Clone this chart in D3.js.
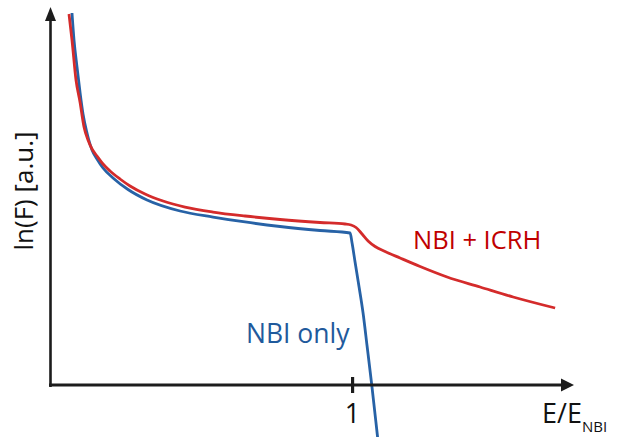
<!DOCTYPE html>
<html>
<head>
<meta charset="utf-8">
<script src="https://cdn.jsdelivr.net/npm/d3@7"></script>
<style>
  html, body { margin: 0; padding: 0; background: #fff; }
  svg { display: block; font-family: "Open Sans", "Noto Sans", sans-serif; }
</style>
</head>
<body>
<svg id="chart" width="619" height="437"></svg>
<script>
// Normalised energy E/E_NBI and ln(F) (arbitrary units) for both distributions
const energyIcrh = [0.0629, 0.0728, 0.0861, 0.0993, 0.1126, 0.1258, 0.1391, 0.1556, 0.1755, 0.1987,
  0.2318, 0.2649, 0.3146, 0.3742, 0.4470, 0.5397, 0.6457, 0.7616, 0.8940, 0.9768,
  0.9967, 1.0132, 1.0331, 1.0530, 1.0762, 1.1093, 1.1589, 1.2252, 1.3146, 1.4238,
  1.5331, 1.6722];
const lnFIcrh = [9.840, 9.149, 8.085, 7.500, 6.835, 6.489, 6.250, 6.064, 5.851, 5.665,
  5.452, 5.266, 5.053, 4.867, 4.707, 4.574, 4.468, 4.375, 4.295, 4.255,
  4.229, 4.162, 3.989, 3.803, 3.657, 3.524, 3.351, 3.125, 2.846, 2.580,
  2.314, 2.021];

const energyNbi = [0.0728, 0.0795, 0.0894, 0.0993, 0.1093, 0.1225, 0.1391, 0.1556, 0.1755, 0.2086,
  0.2583, 0.3212, 0.4305, 0.5397, 0.6457, 0.7616, 0.8940, 0.9934, 1.0000, 1.0099,
  1.0232, 1.0364, 1.0497, 1.0652, 1.0844, 1.0877];
const lnFNbi = [9.867, 9.149, 8.431, 7.766, 7.181, 6.676, 6.223, 5.984, 5.745, 5.479,
  5.173, 4.894, 4.601, 4.441, 4.309, 4.189, 4.082, 4.016, 3.750, 3.245,
  2.580, 1.888, 1.011, -0.027, -1.410, -1.649];

const xTicks = [1];
const xTickLabels = ["1"];

const svg = d3.select("#chart");

const x = d3.scaleLinear().domain([0, 1.738]).range([50, 575]);
const y = d3.scaleLinear().domain([0, 10]).range([384, 8]);

const axisColor = "#1c1c1c";
const red = "#d42b2b";
const blue = "#2762a6";

// Curves
const line = d3.line()
  .x(d => x(d[0]))
  .y(d => y(d[1]))
  .curve(d3.curveMonotoneX);

const icrh = energyIcrh.map((e, i) => [e, lnFIcrh[i]]);
const nbi = energyNbi.map((e, i) => [e, lnFNbi[i]]);

svg.append("path")
  .attr("d", line(nbi))
  .attr("fill", "none")
  .attr("stroke", blue)
  .attr("stroke-width", 2.8)
  .attr("stroke-linejoin", "round");

svg.append("path")
  .attr("d", line(icrh))
  .attr("fill", "none")
  .attr("stroke", red)
  .attr("stroke-width", 2.8)
  .attr("stroke-linejoin", "round");

// Axes with arrow heads
const x0 = x(0), y0 = y(0);
const xEnd = x.range()[1] - 1, yEnd = y.range()[1] - 1;

svg.append("line")
  .attr("x1", x0 + 0.5).attr("x2", x0 + 0.5)
  .attr("y1", y0 + 3).attr("y2", yEnd + 12)
  .attr("stroke", axisColor).attr("stroke-width", 2.6);
svg.append("path")
  .attr("d", `M${x0 + 0.5},${yEnd} L${x0 + 6},${yEnd + 14} L${x0 - 5},${yEnd + 14} Z`)
  .attr("fill", axisColor);

svg.append("line")
  .attr("x1", x0 - 1).attr("x2", xEnd - 10)
  .attr("y1", y0 + 1).attr("y2", y0 + 1)
  .attr("stroke", axisColor).attr("stroke-width", 3);
svg.append("path")
  .attr("d", `M${xEnd},${y0 + 1} L${xEnd - 13},${y0 - 5.5} L${xEnd - 13},${y0 + 7.5} Z`)
  .attr("fill", axisColor);

const xAxis = svg.append("g")
  .attr("transform", `translate(0,${y0 + 1})`)
  .call(d3.axisBottom(x)
    .tickValues(xTicks)
    .tickFormat((d, i) => xTickLabels[i])
    .tickSizeOuter(0));
xAxis.select(".domain").remove();
xAxis.selectAll(".tick line")
  .attr("y1", -8).attr("y2", 8)
  .attr("stroke", axisColor).attr("stroke-width", 3.2);
xAxis.selectAll(".tick text")
  .attr("y", 38).attr("dy", 0)
  .attr("fill", "#111")
  .style("font-family", "'Open Sans', sans-serif")
  .style("font-size", "27px");

// Axis titles
const xTitle = svg.append("text")
  .attr("x", 542).attr("y", 423)
  .attr("fill", "#111")
  .style("font-size", "27px");
xTitle.append("tspan").text("E/E");
xTitle.append("tspan").attr("dy", 9).style("font-size", "15px").text("NBI");

svg.append("text")
  .attr("transform", "translate(33,191) rotate(-90)")
  .attr("text-anchor", "middle")
  .attr("fill", "#111")
  .style("font-size", "26px")
  .text("ln(F) [a.u.]");

// Series labels
svg.append("text")
  .attr("x", 246).attr("y", 343)
  .attr("fill", "#1f5a9c")
  .style("font-size", "26.5px")
  .text("NBI only");

svg.append("text")
  .attr("x", 413).attr("y", 249)
  .attr("fill", "#c00000")
  .style("font-size", "25.5px")
  .text("NBI + ICRH");
</script>
</body>
</html>
